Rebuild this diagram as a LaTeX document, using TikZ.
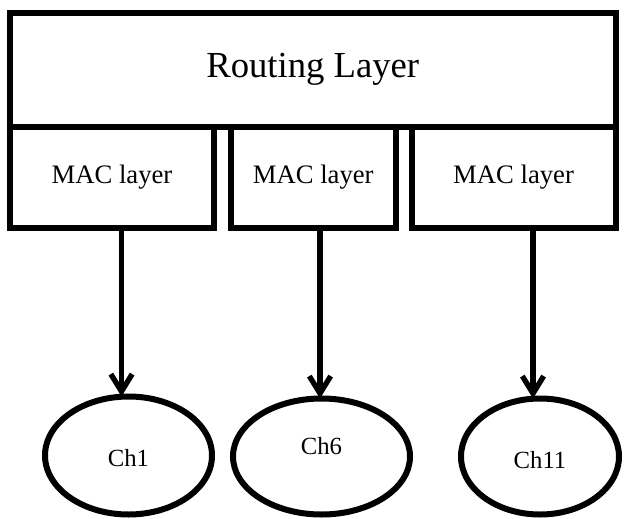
\documentclass[tikz,border=0pt]{standalone}
\usepackage{fontspec}
\setmainfont{Liberation Serif}
\usetikzlibrary{arrows.meta,shapes.geometric}
\begin{document}
\begin{tikzpicture}[x=0.75pt,y=-0.75pt,
  boxstyle/.style={draw=black,line width=4.5pt,rectangle,inner sep=0pt,outer sep=0pt,fill=white},
  chan/.style={draw=black,line width=4.5pt,ellipse,inner sep=0pt,outer sep=0pt},
  chtext/.style={font=\fontsize{18.5}{20}\selectfont},
  arr/.style={line width=3.8pt,-{Straight Barb[length=13pt,width=16pt,line width=4pt]}}]
\useasboundingbox (0,0) rectangle (625,518);
\node[boxstyle,minimum width=605.5*0.75pt,minimum height=114*0.75pt,font=\fontsize{27.5}{30}\selectfont] (route) at (312.75,69.5) {Routing Layer};
\node[boxstyle,minimum width=204*0.75pt,minimum height=101*0.75pt,font=\fontsize{20}{22}\selectfont] (mac1) at (112,177) {MAC layer};
\node[boxstyle,minimum width=165*0.75pt,minimum height=101*0.75pt,font=\fontsize{20}{22}\selectfont] (mac2) at (313.2,177) {MAC layer};
\node[boxstyle,minimum width=203.8*0.75pt,minimum height=101*0.75pt,font=\fontsize{20}{22}\selectfont] (mac3) at (513.6,177) {MAC layer};
\node[chan,minimum width=167*0.75pt,minimum height=118*0.75pt,label={[chtext,yshift=-2pt]center:Ch1}] (ch1) at (128.5,455.5) {};
\node[chan,minimum width=177*0.75pt,minimum height=116*0.75pt,label={[chtext,yshift=8pt]center:Ch6}] (ch6) at (321.5,456.5) {};
\node[chan,minimum width=158*0.75pt,minimum height=116*0.75pt,label={[chtext,yshift=-3pt]center:Ch11}] (ch11) at (540,456.5) {};
\coordinate (a1) at (121.5,0);
\coordinate (a2) at (320,0);
\coordinate (a3) at (533,0);
\draw[arr] (a1 |- mac1.south) -- (a1 |- ch1.north);
\draw[arr] (a2 |- mac2.south) -- (a2 |- ch6.north);
\draw[arr] (a3 |- mac3.south) -- (a3 |- ch11.north);
\end{tikzpicture}
\end{document}
